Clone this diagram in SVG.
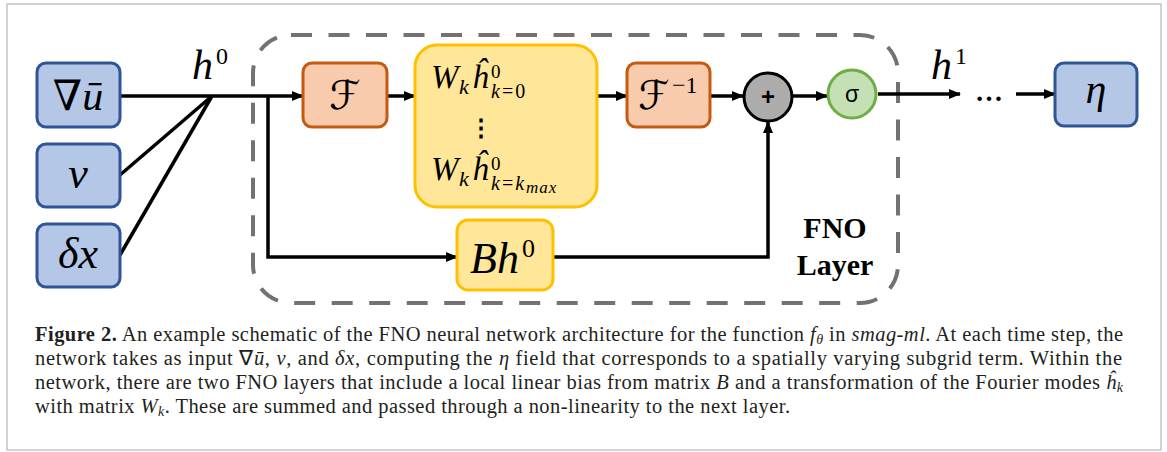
<svg xmlns="http://www.w3.org/2000/svg" width="1167" height="452" viewBox="0 0 1167 452">
<style>
.in{fill:#b4c7e7;stroke:#2f5597;stroke-width:3}
.ft{fill:#f8cbad;stroke:#c55a11;stroke-width:3}
.yl{fill:#ffe699;stroke:#ffc000;stroke-width:3}
.ln{fill:none;stroke:#000;stroke-width:3.5}
.m{font-family:"Liberation Serif",serif;font-style:italic;fill:#000}
.n{font-family:"Liberation Serif",serif;fill:#000}
.up{font-family:"DejaVu Serif",serif;fill:#000}
.cal{font-family:"DejaVu Sans",sans-serif;font-style:italic;fill:#000}
.cap{font-family:"Liberation Serif",serif;font-size:20.5px;fill:#231f20}
.i{font-style:italic}
</style>
<defs>
<marker id="ah" markerUnits="userSpaceOnUse" markerWidth="12" markerHeight="12" refX="11" refY="6" orient="auto">
<path d="M0,1 L12,6 L0,11 Z" fill="#000"/>
</marker>
</defs>
<rect x="7" y="4" width="1154" height="446" fill="#fff" stroke="#c4c4c4" stroke-width="1.5"/>

<g id="fno-layer">
<rect x="253" y="35" width="645" height="268" rx="38" fill="none" stroke="#767171" stroke-width="4" stroke-dasharray="21 16.5"/>
<text x="835" y="238" text-anchor="middle" font-family="Liberation Serif,serif" font-weight="bold" font-size="30">FNO</text>
<text x="835" y="275" text-anchor="middle" font-family="Liberation Serif,serif" font-weight="bold" font-size="30">Layer</text>
</g>

<g id="connectors">
<path class="ln" d="M120,96 L212,96"/>
<path class="ln" d="M120,175 L212,96"/>
<path class="ln" d="M120,255 L212,96"/>
<path class="ln" d="M212,96 L303,96" marker-end="url(#ah)"/>
<path class="ln" d="M268,96 L268,257 L457,257" marker-end="url(#ah)"/>
<path class="ln" d="M387,96 L415,96" marker-end="url(#ah)"/>
<path class="ln" d="M597,96 L627,96" marker-end="url(#ah)"/>
<path class="ln" d="M710,96 L743,96" marker-end="url(#ah)"/>
<path class="ln" d="M793,96 L827,96" marker-end="url(#ah)"/>
<path class="ln" d="M553,257 L768,257 L768,122" marker-end="url(#ah)"/>
<path class="ln" d="M878,94 L960,94" marker-end="url(#ah)"/>
<path class="ln" d="M1016,94 L1055,94" marker-end="url(#ah)"/>
<text class="m" x="192" y="79" font-size="42">h<tspan font-style="normal" font-size="24" dy="-15" dx="3">0</tspan></text>
<text class="m" x="931" y="79" font-size="42">h<tspan font-style="normal" font-size="24" dy="-15" dx="3">1</tspan></text>
<text x="989" y="101" text-anchor="middle" font-family="Liberation Serif,serif" font-size="28" font-weight="bold">…</text>
</g>

<g id="grad-u">
<rect class="in" x="37" y="63" width="83" height="64" rx="9"/>
<text x="78" y="110" text-anchor="middle" font-size="42"><tspan class="up">∇</tspan><tspan class="m">ū</tspan></text>
</g>
<g id="nu">
<rect class="in" x="37" y="144" width="83" height="63" rx="9"/>
<text class="m" x="78" y="188" text-anchor="middle" font-size="44">ν</text>
</g>
<g id="dx">
<rect class="in" x="37" y="224" width="83" height="63" rx="9"/>
<text class="m" x="78" y="268" text-anchor="middle" font-size="44">δx</text>
</g>

<g id="fourier">
<rect class="ft" x="303" y="63" width="84" height="64" rx="9"/>
<text class="cal" x="345" y="109" text-anchor="middle" font-size="40">ℱ</text>
</g>

<g id="weights">
<rect class="yl" x="415" y="45" width="182" height="162" rx="22"/>
<text class="m" x="431" y="88" font-size="33">W</text>
<text class="m" x="459" y="94" font-size="22">k</text>
<text class="m" x="472" y="88" font-size="33">ĥ</text>
<text class="n" x="491" y="78" font-size="19">0</text>
<text class="m" x="491" y="98" font-size="20" letter-spacing="2">k<tspan font-style="normal">=0</tspan></text>
<text x="481" y="136" text-anchor="middle" font-family="Liberation Serif,serif" font-size="24" font-weight="bold">⋮</text>
<text class="m" x="431" y="180" font-size="33">W</text>
<text class="m" x="459" y="186" font-size="22">k</text>
<text class="m" x="472" y="180" font-size="33">ĥ</text>
<text class="n" x="491" y="170" font-size="19">0</text>
<text class="m" x="491" y="190" font-size="20" letter-spacing="2">k<tspan font-style="normal">=</tspan>k<tspan font-size="17" dy="3" letter-spacing="1">max</tspan></text>
</g>

<g id="inverse-fourier">
<rect class="ft" x="627" y="63" width="83" height="64" rx="9"/>
<text class="cal" x="654" y="109" text-anchor="middle" font-size="40">ℱ</text>
<text class="n" x="672" y="93" font-size="24">−1</text>
</g>

<g id="plus">
<circle cx="768" cy="97" r="24" fill="#aeabab" stroke="#000" stroke-width="3"/>
<text x="768" y="105" text-anchor="middle" font-family="Liberation Sans,sans-serif" font-weight="bold" font-size="24">+</text>
</g>

<g id="sigma">
<circle cx="852" cy="94" r="24" fill="#c5e0b4" stroke="#70ad47" stroke-width="3"/>
<text x="852" y="102" text-anchor="middle" font-family="Liberation Sans,sans-serif" font-size="23">σ</text>
</g>

<g id="bias">
<rect class="yl" x="457" y="220" width="96" height="70" rx="11"/>
<text class="m" x="470" y="273" font-size="44">Bh<tspan font-style="normal" font-size="26" dy="-16" dx="3">0</tspan></text>
</g>

<g id="eta">
<rect class="in" x="1055" y="63" width="82" height="63" rx="9"/>
<text class="m" x="1096" y="103" text-anchor="middle" font-size="42">η</text>
</g>

<g id="caption">
<text class="cap" x="35" y="341" textLength="1088" lengthAdjust="spacing"><tspan font-weight="bold">Figure 2.</tspan> An example schematic of the FNO neural network architecture for the function <tspan class="i">f</tspan><tspan class="i" font-size="14" dy="3">θ</tspan><tspan dy="-3"> in </tspan><tspan class="i">smag-ml</tspan>. At each time step, the</text>
<text class="cap" x="35" y="365" textLength="1087" lengthAdjust="spacing">network takes as input ∇<tspan class="i">ū</tspan>, <tspan class="i">ν</tspan>, and <tspan class="i">δx</tspan>, computing the <tspan class="i">η</tspan> field that corresponds to a spatially varying subgrid term. Within the</text>
<text class="cap" x="35" y="389" textLength="1088" lengthAdjust="spacing">network, there are two FNO layers that include a local linear bias from matrix <tspan class="i">B</tspan> and a transformation of the Fourier modes <tspan class="i">ĥ</tspan><tspan class="i" font-size="14" dy="3">k</tspan></text>
<text class="cap" x="35" y="413" textLength="755" lengthAdjust="spacing">with matrix <tspan class="i">W</tspan><tspan class="i" font-size="14" dy="3">k</tspan><tspan dy="-3">. These are summed and passed through a non-linearity to the next layer.</tspan></text>
</g>
</svg>
